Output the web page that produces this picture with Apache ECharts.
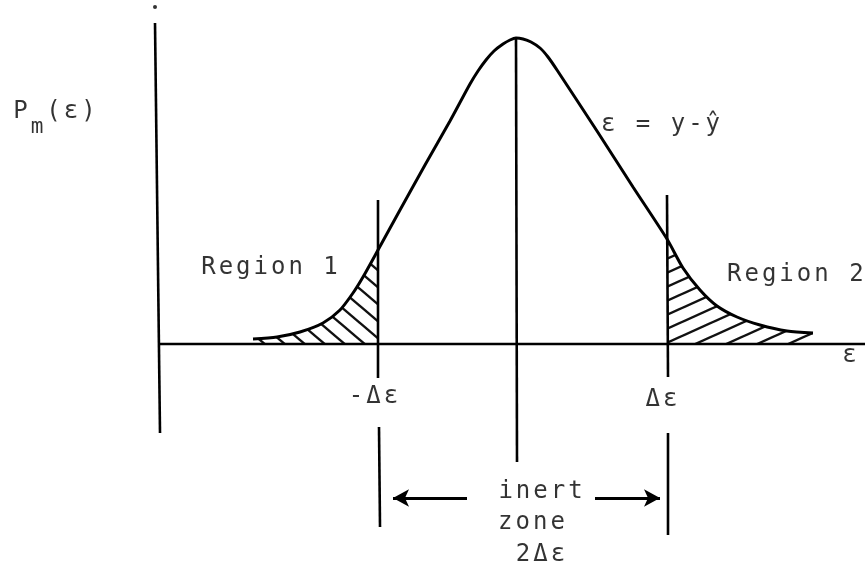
<!DOCTYPE html>
<html>
<head>
<meta charset="utf-8">
<script src="https://cdn.jsdelivr.net/npm/echarts@6/dist/echarts.min.js"></script>
<style>
  html, body { margin: 0; padding: 0; background: #fff; }
  #chart { width: 865px; height: 565px; }
</style>
</head>
<body>
<div id="chart"></div>
<script>
// density curve (eps on x, P on y, baseline P = 0)
const curveEps = [-263, -239, -216, -193, -176, -163, -153, -138, -116, -91, -66, -46, -38, -30, -22, -13, -6, 0,
                  7, 15, 24, 32, 41, 81, 117, 151, 167, 184, 201, 221, 244, 271, 297];
const curveP = [5, 7, 12, 21, 34, 51, 67, 94, 134, 179, 223, 260, 273, 284, 293, 300, 304, 306,
                305, 302, 296, 287, 274, 213, 157, 105, 76, 54, 38, 27, 19, 13, 11];

// -delta eps / +delta eps
const deltaLeft = -138;
const deltaRight = 151;

// straight strokes of the drawing: [[x1, y1], [x2, y2]]
const axisY = [[-361, 321], [-356, -89]];
const axisX = [[-358, 0], [349, 0]];
const centerLine = [[0, 306], [1, -118]];
const leftUpper = [[-138, 144], [-138, -34]];
const leftLower = [[-137, -83], [-136, -183]];
const rightUpper = [[151, 149], [152, -33]];
const rightLower = [[152, -89], [152, -191]];
const arrowLeft = [[-49, -154], [-123, -154]];
const arrowRight = [[79, -154], [144, -154]];
const topDot = [-361, 337];

// annotations
const labelText = ["{p|P}{m|m}{p|(ε)}", "ε = y-ŷ", "Region 1", "-Δε", "Δε", "inert", "zone", "2Δε", "ε"];
const labelPos = [[-460, 225], [146, 219], [-245, 76], [-141, -53], [147, -56], [26, -148], [17, -179], [26, -211], [335, -12]];
const region2Text = "Region 2";
const region2Pos = [211, 69];

const curve = curveEps.map((e, i) => [e, curveP[i]]);
const tail1 = curve.filter(d => d[0] <= deltaLeft);
const tail2 = curve.filter(d => d[0] >= deltaRight);

// the typed lettering is widely spaced; canvas text has no option for it in echarts
const spacing = "3px";
const proto = CanvasRenderingContext2D.prototype;
const baseFill = proto.fillText;
const baseMeasure = proto.measureText;
proto.fillText = function () {
  this.letterSpacing = spacing;
  return baseFill.apply(this, arguments);
};
proto.measureText = function () {
  this.letterSpacing = spacing;
  return baseMeasure.apply(this, arguments);
};

// hatch tile: one family of parallel strokes, period w across and h down
function hatch(w, h, rising) {
  const c = document.createElement("canvas");
  c.width = w;
  c.height = h;
  const ctx = c.getContext("2d");
  ctx.strokeStyle = "#111";
  ctx.lineWidth = 2.4;
  for (let k = -1; k <= 1; k++) {
    ctx.beginPath();
    if (rising) {
      ctx.moveTo(k * w - w, 2 * h);
      ctx.lineTo(k * w + 2 * w, -h);
    } else {
      ctx.moveTo(k * w - w, -h);
      ctx.lineTo(k * w + 2 * w, 2 * h);
    }
    ctx.stroke();
  }
  return { image: c, repeat: "repeat" };
}

const ink = "#000";
const font = "DejaVu Sans Mono";

function stroke(seg) {
  return {
    type: "line",
    data: seg,
    symbol: "none",
    silent: true,
    lineStyle: { color: ink, width: 2.6 }
  };
}

const chart = echarts.init(document.getElementById("chart"));
const option = {
  backgroundColor: "#fff",
  animation: false,
  grid: { left: 0, right: 0, top: 0, bottom: 0 },
  xAxis: { type: "value", min: -516, max: 349, show: false },
  yAxis: { type: "value", min: -221, max: 344, show: false },
  series: [
    {
      type: "line",
      data: tail1,
      smooth: 0.25,
      symbol: "none",
      lineStyle: { width: 0 },
      areaStyle: { color: hatch(20, 17, false), origin: 0, opacity: 1 }
    },
    {
      type: "line",
      data: tail2,
      smooth: 0.25,
      symbol: "none",
      lineStyle: { width: 0 },
      areaStyle: { color: hatch(31, 14, true), origin: 0, opacity: 1 }
    },
    {
      type: "line",
      data: curve,
      smooth: 0.25,
      symbol: "none",
      lineStyle: { color: ink, width: 3 }
    },
    stroke(axisY),
    stroke(axisX),
    stroke(centerLine),
    stroke(leftUpper),
    stroke(leftLower),
    stroke(rightUpper),
    stroke(rightLower),
    {
      type: "line",
      data: [],
      markLine: {
        silent: true,
        symbol: ["none", "arrow"],
        symbolSize: [13, 16],
        lineStyle: { color: ink, width: 3, type: "solid" },
        label: { show: false },
        data: [
          [{ coord: arrowLeft[0] }, { coord: arrowLeft[1] }],
          [{ coord: arrowRight[0] }, { coord: arrowRight[1] }]
        ]
      }
    },
    {
      type: "scatter",
      data: [topDot],
      symbolSize: 4,
      itemStyle: { color: ink }
    },
    {
      type: "scatter",
      symbolSize: 0,
      data: labelPos.map((p, i) => ({ value: p, label: { formatter: labelText[i] } })),
      label: {
        show: true,
        position: "inside",
        color: ink,
        fontFamily: font,
        fontSize: 24,
        rich: {
          p: { fontFamily: font, fontSize: 24, color: ink, padding: [0, 0, 15, 0], verticalAlign: "bottom" },
          m: { fontFamily: font, fontSize: 21, color: ink, verticalAlign: "bottom" }
        }
      }
    },
    {
      type: "scatter",
      symbolSize: 0,
      data: [{ value: region2Pos, label: { formatter: region2Text } }],
      label: {
        show: true,
        position: "inside",
        align: "left",
        color: ink,
        fontFamily: font,
        fontSize: 24
      }
    }
  ]
};
chart.setOption(option);
</script>
</body>
</html>
